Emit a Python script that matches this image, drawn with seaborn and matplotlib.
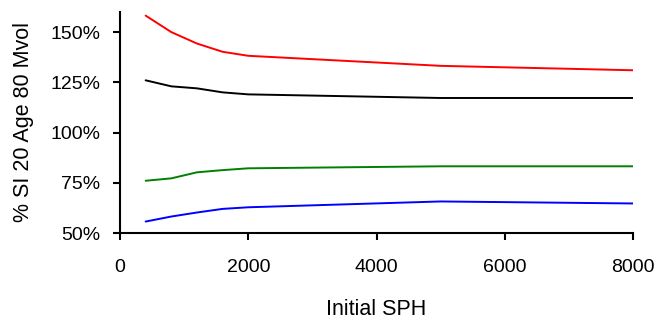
import matplotlib
matplotlib.use("Agg")
import matplotlib.pyplot as plt
import seaborn as sns
import pandas as pd
from matplotlib.ticker import FuncFormatter

sph = [400, 800, 1200, 1600, 2000, 5000, 8000]
red = [158.2, 150.0, 144.3, 140.2, 138.2, 133.2, 131.0]
black = [126.0, 123.0, 122.0, 120.0, 119.0, 117.2, 117.2]
green = [76.0, 77.2, 80.2, 81.3, 82.2, 83.2, 83.2]
blue = [55.7, 58.2, 60.2, 62.0, 62.8, 65.7, 64.7]

series = {"red": red, "black": black, "green": green, "blue": blue}
colors = {"red": "#ff0000", "black": "#000000", "green": "#008000", "blue": "#0000ff"}

rows = []
for name, vals in series.items():
    for x, v in zip(sph, vals):
        rows.append({"sph": x, "val": v, "series": name})
df = pd.DataFrame(rows)

sns.set_style("white")
plt.rcParams["font.family"] = ["Liberation Sans", "DejaVu Sans"]
plt.rcParams["text.color"] = "black"
plt.rcParams["axes.labelcolor"] = "black"

fig = plt.figure(figsize=(6.65, 3.23), dpi=100)
ax = fig.add_axes([120/665, 1-233/323, (633-120)/665, (233-12)/323])
sns.lineplot(data=df, x="sph", y="val", hue="series", palette=colors,
             ax=ax, legend=False, linewidth=1.4)

ax.set_xlim(0, 8000)
ax.set_ylim(50, 160)
ax.set_xticks([0, 2000, 4000, 6000, 8000])
ax.set_yticks([50, 75, 100, 125, 150])
ax.yaxis.set_major_formatter(FuncFormatter(lambda v, p: f"{int(v)}%"))
ax.set_xlabel("Initial SPH", fontsize=15.5, labelpad=16, color="black")
ax.set_ylabel("% SI 20 Age 80 Mvol", fontsize=15.5, labelpad=12, color="black")
ax.tick_params(axis="both", direction="out", length=5, width=1.5, labelsize=14,
               bottom=True, left=True, colors="black", labelcolor="black")
ax.tick_params(axis="y", pad=9)
ax.tick_params(axis="x", pad=14)
for s in ["top", "right"]:
    ax.spines[s].set_visible(False)
for s in ["left", "bottom"]:
    ax.spines[s].set_linewidth(1.5)
    ax.spines[s].set_color("black")

fig.savefig("out.png", dpi=100)
